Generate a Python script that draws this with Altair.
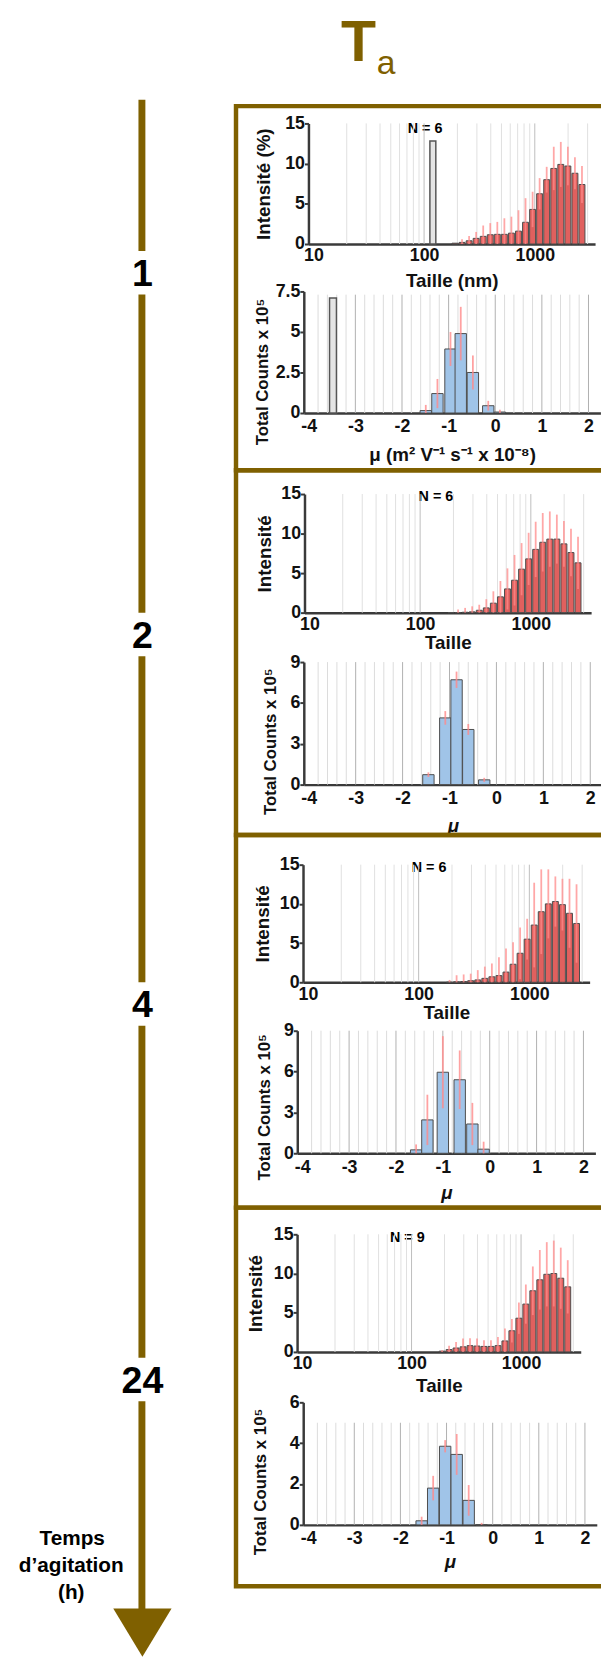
import altair as alt
import pandas as pd

# ---------------- values ----------------
HOURS = ["1", "2", "4", "24"]
N_TEXT = ["N = 6", "N = 6", "N = 6", "N = 9"]

SIZE_BINS = [190.1, 220.2, 255.0, 295.3, 342.0, 396.1, 458.7, 531.2, 615.1,
             712.4, 825.0, 955.4, 1106.0, 1281.0, 1484.0, 1718.0, 1990.0, 2305.0, 2669.0]

INT_1H = [0.1, 0.2, 0.4, 0.7, 0.95, 1.15, 1.2, 1.2, 1.35, 1.6, 2.7, 4.3, 6.25, 8.0, 9.4, 9.9, 9.7, 8.8, 7.4]
ERR_1H = [0.0, 0.4, 0.6, 0.8, 1.35, 1.45, 1.55, 2.0, 2.05, 2.6, 3.0, 2.2, 1.95, 1.6, 2.7, 2.8, 2.4, 2.0, 2.3]
INT_2H = [0.0, 0.0, 0.05, 0.1, 0.3, 0.6, 1.2, 2.0, 3.0, 4.1, 5.5, 6.8, 8.0, 8.9, 9.3, 9.3, 8.7, 7.6, 6.3]
ERR_2H = [0.0, 0.4, 0.55, 0.7, 0.7, 1.1, 1.5, 2.0, 2.6, 3.2, 3.3, 3.3, 3.5, 3.7, 3.5, 3.1, 2.9, 3.0, 3.3]
INT_4H = [0.0, 0.05, 0.1, 0.2, 0.3, 0.5, 0.7, 0.85, 1.3, 2.3, 3.7, 5.5, 7.3, 9.0, 10.0, 10.3, 9.9, 8.8, 7.5]
ERR_4H = [0.3, 0.85, 0.9, 0.9, 1.25, 1.5, 1.7, 2.35, 3.0, 2.8, 3.3, 2.6, 5.4, 5.4, 4.4, 3.2, 3.3, 4.4, 5.0]
INT_24H = [0.1, 0.3, 0.5, 0.65, 0.8, 0.75, 0.7, 0.7, 0.8, 1.4, 2.7, 4.3, 6.1, 7.8, 9.2, 9.9, 10.0, 9.4, 8.3]
ERR_24H = [0.1, 0.5, 0.75, 1.05, 0.95, 0.95, 0.8, 0.8, 1.1, 1.6, 1.5, 2.0, 2.5, 3.1, 3.8, 4.1, 4.2, 3.9, 3.4]

MU_1H = [-1.49, -1.24, -0.96, -0.74, -0.48, -0.15, 0.10]
CNT_1H = [0.15, 1.2, 3.95, 4.9, 2.5, 0.45, 0.06]
CERR_1H = [0.35, 0.9, 1.05, 1.65, 1.05, 0.3, 0.14]
MU_2H = [-1.45, -1.09, -0.85, -0.60, -0.26]
CNT_2H = [0.73, 4.9, 7.7, 4.05, 0.35]
CERR_2H = [0.17, 0.5, 0.6, 0.4, 0.15]
MU_4H = [-1.57, -1.33, -1.0, -0.64, -0.37, -0.13]
CNT_4H = [0.25, 2.45, 5.95, 5.4, 2.15, 0.3]
CERR_4H = [0.4, 1.85, 2.65, 2.15, 1.55, 0.55]
MU_24H = [-1.54, -1.29, -1.03, -0.78, -0.52, -0.24]
CNT_24H = [0.2, 1.8, 3.85, 3.45, 1.2, 0.0]
CERR_24H = [0.2, 0.6, 0.3, 1.0, 0.75, 0.1]

REF_SIZE = [120.0]
REF_INT = [12.8]
REF_MU = [-3.48]
REF_CNT = [7.1]

SIZE_TICKS = [10, 100, 1000]
INT_TICKS = [0, 5, 10, 15]
MU_TICKS = [-4, -3, -2, -1, 0, 1, 2]
CNT_TICKS = [[0, 2.5, 5, 7.5], [0, 3, 6, 9], [0, 3, 6, 9], [0, 2, 4, 6]]
CNT_MAX = [7.5, 9, 9, 6]
MU_GRID_TOP = [7.3, 9, 9, 5]

SIZE_GRID = [20, 30, 40, 50, 60, 70, 80, 90, 100, 200, 300, 400, 500, 600, 700,
             800, 900, 1000, 2000, 3000]
MU_GRID = [round(-3.8 + 0.2 * k, 1) for k in range(30)]

# ---------------- styling / layout ----------------
FONT = "Liberation Sans, Arial, Helvetica, sans-serif"
BROWN = "#7f6000"
RED = "#e0605e"
BLUE = "#a0c4e8"
EDGE = "#4d4d4d"
PINK = "#ff8a8a"
AXC = "#3a3a3a"
W, H = 600, 1658


def X(p):
    return p - 8


def Y(p):
    return p - 8


def x_axis(values, ay, title, title_dy, pad, italic=False):
    return alt.Axis(orient="bottom", offset=Y(ay) - H, values=values,
                    labelExpr="datum.value < 0 ? '-' + abs(datum.value) : '' + datum.value",
                    labelFont=FONT, labelFontSize=18, labelFontWeight="bold", labelColor="#111",
                    labelPadding=pad, labelFlush=False, labelOverlap=False, ticks=False,
                    domainColor=AXC, domainWidth=2.5, grid=False,
                    title=title, titleFont=FONT, titleFontSize=19, titleFontWeight="bold",
                    titleFontStyle="italic" if italic else "normal", titleColor="#111",
                    titleY=title_dy, titleBaseline="middle")


def y_axis(values, ax, title, title_dx, title_y=None, tsize=19):
    kw = {}
    if title_y is not None:
        kw["titleY"] = Y(title_y)
    return alt.Axis(orient="left", offset=-X(ax), values=values,
                    labelExpr="'' + datum.value",
                    labelFont=FONT, labelFontSize=18, labelFontWeight="bold", labelColor="#111",
                    labelPadding=0, labelOverlap=False, labelFlush=False,
                    tickSize=4, tickWidth=2, tickColor=AXC,
                    domainColor=AXC, domainWidth=2.5, grid=False,
                    title=title, titleFont=FONT, titleFontSize=tsize, titleFontWeight="bold",
                    titleColor="#111", titleX=title_dx, titleBaseline="middle", titleAngle=270,
                    **kw)


# panel geometry (page pixels)
G_SIZE = [
    dict(ax=312, ay=237, top=115, w=290, xt="Taille (nm)", xt_dy=37, yt="Intensité (%)", yt_dx=-45),
    dict(ax=308, ay=610, top=490, w=290, xt="Taille", xt_dy=30, yt="Intensité", yt_dx=-40),
    dict(ax=306.5, ay=984, top=865, w=290, xt="Taille", xt_dy=31, yt="Intensité", yt_dx=-41),
    dict(ax=300.5, ay=1358, top=1239, w=287, xt="Taille", xt_dy=34, yt="Intensité", yt_dx=-42),
]
G_MU = [
    dict(ax=307.3, ay=408, top=285, ppu=48.8, xt="μ (m² V⁻¹ s⁻¹ x 10⁻⁸)", xt_dy=42, it=False, yt_dx=-42, yt_y=366),
    dict(ax=307.3, ay=784, top=660, ppu=49.1, xt="μ", xt_dy=41, it=True, yt_dx=-34, yt_y=740),
    dict(ax=300.7, ay=1157, top=1033, ppu=49.05, xt="μ", xt_dy=40, it=True, yt_dx=-33, yt_y=1110),
    dict(ax=306.7, ay=1533, top=1409, ppu=48.3, xt="μ", xt_dy=37, it=True, yt_dx=-43, yt_y=1489),
]
N_POS = [(430, 125), (441, 497), (434, 872), (412, 1247)]
BOXES = [(97.5, 466), (466, 835), (835, 1212), (1212, 1595)]
LABEL_Y = [266, 632, 1006, 1386]


def size_panel(vals, errs, g, ref=False):
    xs = alt.Scale(type="log", domain=[10, 3162], range=[X(g["ax"]), X(g["ax"] + g["w"])], nice=False)
    ys = alt.Scale(domain=[0, 15], range=[Y(g["ay"]), Y(g["top"])], nice=False, zero=False)
    xa = x_axis(SIZE_TICKS, g["ay"], g["xt"], g["xt_dy"], 3)
    ya = y_axis(INT_TICKS, g["ax"], g["yt"], g["yt_dx"])

    def ex():
        return alt.X("x:Q", scale=xs, axis=xa)

    def ey():
        return alt.Y("y:Q", scale=ys, axis=ya)

    gdf = pd.DataFrame({"x": SIZE_GRID, "y": [0] * len(SIZE_GRID), "y2": [15] * len(SIZE_GRID),
                        "c": ["#bdbdbd" if v in (100, 1000) else "#e0e0e0" for v in SIZE_GRID]})
    grid = alt.Chart(gdf).mark_rule(strokeWidth=1).encode(
        x=ex(), y=ey(), y2="y2:Q", color=alt.Color("c:N", scale=None))
    bdf = pd.DataFrame({"x": SIZE_BINS, "y": vals})
    bars = alt.Chart(bdf).mark_bar(size=6, fill=RED, stroke=EDGE, strokeWidth=1).encode(x=ex(), y=ey())
    edf = pd.DataFrame({"x": SIZE_BINS, "y": [max(v - e, 0) for v, e in zip(vals, errs)],
                        "y2": [v + e for v, e in zip(vals, errs)]})
    err = alt.Chart(edf).mark_rule(color=PINK, strokeWidth=1.8, opacity=0.75).encode(
        x=ex(), y=ey(), y2="y2:Q")
    layers = [grid, bars, err]
    if ref:
        rdf = pd.DataFrame({"x": REF_SIZE, "y": REF_INT})
        layers.append(alt.Chart(rdf).mark_bar(size=6, fill="#e4e4e4", stroke="#555", strokeWidth=1.5)
                      .encode(x=ex(), y=ey()))
    return alt.layer(*layers)


def mu_panel(mus, vals, errs, g, k, ref=False):
    x0 = g["ax"]
    x1 = g["ax"] + 6.15 * g["ppu"]
    xs = alt.Scale(domain=[-4, 2.15], range=[X(x0), X(x1)], nice=False, zero=False)
    ys = alt.Scale(domain=[0, CNT_MAX[k]], range=[Y(g["ay"]), Y(g["top"])], nice=False, zero=False)
    xa = x_axis(MU_TICKS, g["ay"], g["xt"], g["xt_dy"], 5, italic=g["it"])
    ya = y_axis(CNT_TICKS[k], g["ax"], "Total Counts x 10⁵", g["yt_dx"], g["yt_y"], tsize=17)

    def ex():
        return alt.X("x:Q", scale=xs, axis=xa)

    def ey():
        return alt.Y("y:Q", scale=ys, axis=ya)

    gdf = pd.DataFrame({"x": MU_GRID, "y": [0] * len(MU_GRID), "y2": [MU_GRID_TOP[k]] * len(MU_GRID),
                        "c": ["#b0b0b0" if abs(v - round(v)) < 1e-6 else "#dcdcdc" for v in MU_GRID]})
    grid = alt.Chart(gdf).mark_rule(strokeWidth=1).encode(
        x=ex(), y=ey(), y2="y2:Q", color=alt.Color("c:N", scale=None))
    bdf = pd.DataFrame({"x": mus, "y": vals})
    bars = alt.Chart(bdf).mark_bar(size=11.5, fill=BLUE, stroke=EDGE, strokeWidth=1).encode(x=ex(), y=ey())
    edf = pd.DataFrame({"x": mus, "y": [max(v - e, 0) for v, e in zip(vals, errs)],
                        "y2": [v + e for v, e in zip(vals, errs)]})
    err = alt.Chart(edf).mark_rule(color=PINK, strokeWidth=1.8, opacity=0.8).encode(
        x=ex(), y=ey(), y2="y2:Q")
    layers = [grid, bars, err]
    if ref:
        rdf = pd.DataFrame({"x": REF_MU, "y": REF_CNT})
        layers.append(alt.Chart(rdf).mark_bar(size=7, fill="#e4e4e4", stroke="#555", strokeWidth=1.5)
                      .encode(x=ex(), y=ey()))
    return alt.layer(*layers)


BLANK = alt.Data(values=[{"a": 1}])


def txt(s, x, y, size, weight="bold", color="#000", align="center", font=FONT):
    return alt.Chart(BLANK).mark_text(text=s, fontSize=size, fontWeight=weight, color=color,
                                      align=align, baseline="alphabetic", font=font).encode(
        x=alt.value(X(x)), y=alt.value(Y(y)))


def rect(x0, x1, y0, y1, **kw):
    return alt.Chart(BLANK).mark_rect(**kw).encode(
        x=alt.value(X(x0)), x2=alt.value(X(x1)), y=alt.value(Y(y0)), y2=alt.value(Y(y1)))


deco = []
# title "T" with subscript "a"
deco.append(txt("T", 345, 52, 58, color=BROWN, align="left"))
deco.append(txt("a", 381, 65, 34, weight="normal", color=BROWN, align="left"))
# frames
for (t, b) in BOXES:
    deco.append(rect(238.7, 660, t, b, fillOpacity=0, stroke=BROWN, strokeWidth=4.5))
# time arrow
deco.append(rect(140, 147, 91, 1626, fill=BROWN))
deco.append(alt.Chart(BLANK).mark_point(shape="M-1,-0.83L1,-0.83L0,0.83Z", size=59 * 59, filled=True,
                                        fill=BROWN, opacity=1, strokeWidth=0).encode(
    x=alt.value(X(144)), y=alt.value(Y(1642))))
for lab, ly in zip(HOURS, LABEL_Y):
    deco.append(rect(118, 170, ly - 22, ly + 22, fill="white"))
    deco.append(txt(lab, 144, ly + 13.5, 38))
deco.append(txt("Temps", 73, 1553, 21))
deco.append(txt("d’agitation", 72, 1581, 21))
deco.append(txt("(h)", 72, 1608, 21))
# sample counts
for s, (nx, ny) in zip(N_TEXT, N_POS):
    deco.append(txt(s, nx, ny, 14.5))

panels = [
    size_panel(INT_1H, ERR_1H, G_SIZE[0], ref=True),
    mu_panel(MU_1H, CNT_1H, CERR_1H, G_MU[0], 0, ref=True),
    size_panel(INT_2H, ERR_2H, G_SIZE[1]),
    mu_panel(MU_2H, CNT_2H, CERR_2H, G_MU[1], 1),
    size_panel(INT_4H, ERR_4H, G_SIZE[2]),
    mu_panel(MU_4H, CNT_4H, CERR_4H, G_MU[2], 2),
    size_panel(INT_24H, ERR_24H, G_SIZE[3]),
    mu_panel(MU_24H, CNT_24H, CERR_24H, G_MU[3], 3),
]

chart = alt.layer(*deco, *panels).resolve_scale(
    x="independent", y="independent"
).properties(
    width=W, height=H, padding=0, background="white",
    autosize=alt.AutoSizeParams(type="none"),
).configure_view(strokeWidth=0)

chart.save("out.html", embed_options={"renderer": "svg", "actions": False})
